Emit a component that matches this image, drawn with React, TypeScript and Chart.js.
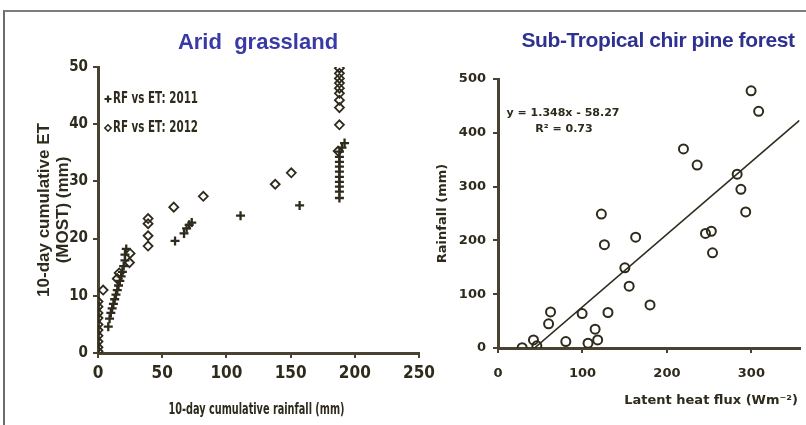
import React, { useEffect, useRef } from 'react';
import { Chart, registerables } from 'chart.js';

Chart.register(...registerables);

// ---------------- Arid grassland ----------------
const aridTitle = 'Arid  grassland';
const aridXLabel = '10-day cumulative rainfall (mm)';
const aridYLabel = ['10-day cumulative ET', '(MOST) (mm)'];
const label2011 = 'RF vs ET: 2011';
const label2012 = 'RF vs ET: 2012';

const rf2011 = [8, 9, 10, 11, 12, 13, 14, 15, 16, 17, 18, 19, 20, 21, 21, 22,
  60, 67, 69, 71, 73, 111, 157,
  188, 188, 188, 188, 188, 188, 188, 188, 188, 188, 190, 192];
const et2011 = [4.6, 6.0, 7.0, 7.8, 8.6, 9.4, 10.2, 11.0, 11.8, 12.6, 13.4, 14.2, 15.2, 16.2, 17.2, 18.2,
  19.6, 20.9, 21.8, 22.4, 22.8, 24.0, 25.8,
  27.1, 28.2, 29.1, 29.9, 30.8, 31.7, 32.6, 33.4, 34.3, 35.2, 35.9, 36.7];

const rf2012 = [0, 0, 0, 0, 0, 0, 0, 0, 0, 0,
  4, 15, 16.5, 24.5, 25, 39, 39, 39, 39, 59, 82, 138, 150.5,
  187, 188, 188, 188, 188, 188, 188, 188, 188, 188];
const et2012 = [0.3, 1.0, 2.0, 3.0, 4.0, 5.0, 6.1, 7.0, 8.1, 9.0,
  11.0, 13.0, 14.0, 15.8, 17.4, 18.7, 20.5, 22.6, 23.5, 25.5, 27.4, 29.5, 31.5,
  35.3, 39.9, 42.9, 44.2, 45.4, 46.3, 47.2, 48.0, 48.9, 49.8];

const aridXMin = 0, aridXMax = 250, aridXStep = 50;
const aridYMin = 0, aridYMax = 50, aridYStep = 10;

// ---------------- Sub-Tropical chir pine forest ----------------
const pineTitle = 'Sub-Tropical chir pine forest';
const pineXLabel = 'Latent heat flux (Wm\u207B\u00B2)';
const pineYLabel = 'Rainfall (mm)';

const latentHeat = [299.7, 308.6, 219.6, 235.8, 283.2, 287.6, 293.3, 245.7, 252.6, 254.0,
  122.4, 126.0, 163.0, 150.2, 155.3, 180.0, 130.2, 99.6, 62.2, 59.9,
  115.0, 80.3, 106.6, 118.0, 42.0, 28.6, 46.0];
const rainfall = [478, 440, 370, 340, 323, 295, 253, 213, 217, 177,
  249, 192, 206, 149, 115, 80, 66, 64, 67, 45,
  35, 12, 9, 15, 15, 0.5, 4];

const fitSlope = 1.348;
const fitIntercept = -58.27;
const fitR2 = 0.73;

const pineXMin = 0, pineXMax = 357, pineXStep = 100;
const pineYMin = 0, pineYMax = 500, pineYStep = 100;

// ---------------- styles ----------------
const INK = '#2e2a1c';
const AXIS = '#494231';
const NARROW = "'Liberation Sans Narrow', 'DejaVu Sans Condensed', 'Arial Narrow', sans-serif";
const SANS = "'Liberation Sans', Arial, sans-serif";
const DEJAVU = "'DejaVu Sans', sans-serif";

const pts = (xs: number[], ys: number[]) => xs.map((x, i) => ({ x, y: ys[i] }));

function drawCross(ctx: CanvasRenderingContext2D, x: number, y: number, r: number) {
  ctx.beginPath();
  ctx.moveTo(x - r, y); ctx.lineTo(x + r, y);
  ctx.moveTo(x, y - r); ctx.lineTo(x, y + r);
  ctx.stroke();
}
function drawDiamond(ctx: CanvasRenderingContext2D, x: number, y: number, r: number) {
  ctx.beginPath();
  ctx.moveTo(x - r, y); ctx.lineTo(x, y - r); ctx.lineTo(x + r, y); ctx.lineTo(x, y + r);
  ctx.closePath();
  ctx.stroke();
}
// draw text squeezed horizontally to a target width (condensed look)
function fitText(ctx: CanvasRenderingContext2D, text: string, x: number, y: number, width: number, align: 'left' | 'center') {
  const w = ctx.measureText(text).width;
  const k = Math.min(1, width / w);
  ctx.save();
  ctx.translate(x, y);
  ctx.scale(k, 1);
  ctx.textAlign = align;
  ctx.fillText(text, 0, 0);
  ctx.restore();
}

const aridText = {
  id: 'aridText',
  afterDraw(chart: any) {
    const ctx: CanvasRenderingContext2D = chart.ctx;
    ctx.save();
    ctx.fillStyle = '#3a3aa6';
    ctx.font = `bold 22px ${SANS}`;
    ctx.textAlign = 'center';
    ctx.textBaseline = 'middle';
    ctx.fillText(aridTitle, 258, 43);

    ctx.fillStyle = INK;
    ctx.strokeStyle = INK;
    ctx.font = `bold 16px ${NARROW}`;
    const xs = chart.scales.x;
    fitText(ctx, aridXLabel, (xs.left + xs.right) / 2 - 2, 410, 176, 'center');

    ctx.font = `bold 15px ${NARROW}`;
    chart.data.datasets.forEach((d: any, i: number) => {
      const y = 99 + i * 29;
      if (d.pointStyle === 'cross') { ctx.lineWidth = 2.2; drawCross(ctx, 108, y, 3.5); }
      else { ctx.lineWidth = 1.6; drawDiamond(ctx, 108, y, 3.2); }
      fitText(ctx, d.label, 113, y, 85, 'left');
    });
    ctx.restore();
  },
};

const pineText = {
  id: 'pineText',
  afterDraw(chart: any) {
    const ctx: CanvasRenderingContext2D = chart.ctx;
    ctx.save();
    ctx.fillStyle = '#2e3190';
    ctx.font = `bold 21px ${SANS}`;
    (ctx as any).letterSpacing = '-0.4px';
    ctx.textAlign = 'center';
    ctx.textBaseline = 'middle';
    ctx.fillText(pineTitle, 258, 41);
    (ctx as any).letterSpacing = '0px';

    ctx.fillStyle = INK;
    ctx.font = `bold 11px ${DEJAVU}`;
    const sign = fitIntercept < 0 ? '-' : '+';
    ctx.fillText(`y = ${fitSlope.toFixed(3)}x ${sign} ${Math.abs(fitIntercept).toFixed(2)}`, 163, 113);
    ctx.fillText(`R\u00B2 = ${fitR2.toFixed(2)}`, 164, 129);

    ctx.font = `bold 13px ${DEJAVU}`;
    ctx.textAlign = 'right';
    ctx.fillText(pineXLabel, 398, 401);
    ctx.restore();
  },
};

function AridChart() {
  const ref = useRef<HTMLCanvasElement>(null);
  useEffect(() => {
    const chart = new Chart(ref.current!, {
      type: 'scatter',
      data: {
        datasets: [
          {
            label: label2011,
            data: pts(rf2011, et2011),
            pointStyle: 'cross',
            pointRadius: 4.5,
            borderWidth: 2.3,
            borderColor: INK,
            backgroundColor: INK,
          },
          {
            label: label2012,
            data: pts(rf2012, et2012),
            pointStyle: 'rectRot',
            pointRadius: 4.5,
            borderWidth: 1.8,
            borderColor: INK,
            backgroundColor: 'rgba(0,0,0,0)',
          },
        ],
      },
      options: {
        responsive: false,
        animation: false,
        devicePixelRatio: 1,
        layout: { padding: { top: 67, right: 20, bottom: 0, left: 0 } },
        plugins: { legend: { display: false }, tooltip: { enabled: false } },
        scales: {
          x: {
            type: 'linear',
            min: aridXMin, max: aridXMax,
            ticks: { stepSize: aridXStep, color: INK, font: { family: NARROW, size: 17, weight: 'bold' }, padding: 5 },
            grid: { drawOnChartArea: false, tickLength: 5, color: AXIS, lineWidth: 2 },
            border: { color: AXIS, width: 3 },
            afterFit: (s: any) => { s.height = 72; },
          },
          y: {
            min: aridYMin, max: aridYMax,
            ticks: { stepSize: aridYStep, color: INK, font: { family: NARROW, size: 15, weight: 'bold' }, padding: 5 },
            grid: { drawOnChartArea: false, tickLength: 5, color: AXIS, lineWidth: 2 },
            border: { color: AXIS, width: 3 },
            title: { display: true, text: aridYLabel, color: INK, font: { family: SANS, size: 17, weight: 'bold', lineHeight: 1.1 }, padding: { top: 35, bottom: 0 } },
            afterFit: (s: any) => { s.width = 98; },
          },
        },
      },
      plugins: [aridText],
    } as any);
    return () => chart.destroy();
  }, []);
  return <canvas ref={ref} width={440} height={425} style={{ position: 'absolute', left: 0, top: 0, width: 440, height: 425 }} />;
}

function PineChart() {
  const ref = useRef<HTMLCanvasElement>(null);
  useEffect(() => {
    const x0 = -fitIntercept / fitSlope;
    const chart = new Chart(ref.current!, {
      type: 'scatter',
      data: {
        datasets: [
          {
            label: 'Rainfall vs LE',
            data: pts(latentHeat, rainfall),
            pointStyle: 'circle',
            pointRadius: 4.5,
            borderWidth: 2,
            borderColor: INK,
            backgroundColor: 'rgba(0,0,0,0)',
          },
          {
            label: 'Linear fit',
            type: 'line',
            data: [
              { x: x0, y: 0 },
              { x: pineXMax, y: fitSlope * pineXMax + fitIntercept },
            ],
            showLine: true,
            pointRadius: 0,
            borderWidth: 1.6,
            borderColor: INK,
            fill: false,
          },
        ],
      },
      options: {
        responsive: false,
        animation: false,
        devicePixelRatio: 1,
        layout: { padding: { top: 79, right: 0, bottom: 0, left: 0 } },
        plugins: { legend: { display: false }, tooltip: { enabled: false } },
        scales: {
          x: {
            type: 'linear',
            min: pineXMin, max: pineXMax,
            afterBuildTicks: (s: any) => { s.ticks = s.ticks.filter((t: any) => t.value % pineXStep === 0); },
            ticks: { stepSize: pineXStep, color: INK, font: { family: DEJAVU, size: 13, weight: 'bold' }, padding: 13 },
            grid: { drawOnChartArea: false, tickLength: 5, color: AXIS, lineWidth: 2 },
            border: { color: AXIS, width: 3 },
            afterFit: (s: any) => { s.height = 77; },
          },
          y: {
            min: pineYMin, max: pineYMax,
            ticks: { stepSize: pineYStep, color: INK, font: { family: DEJAVU, size: 13, weight: 'bold' }, padding: 7 },
            grid: { drawOnChartArea: false, tickLength: 5, color: AXIS, lineWidth: 2 },
            border: { color: AXIS, width: 3 },
            title: { display: true, text: pineYLabel, color: INK, font: { family: DEJAVU, size: 13, weight: 'bold' }, padding: { top: 35, bottom: 0 } },
            afterFit: (s: any) => { s.width = 98; },
          },
        },
      },
      plugins: [pineText],
    } as any);
    return () => chart.destroy();
  }, []);
  return <canvas ref={ref} width={406} height={425} style={{ position: 'absolute', left: 400, top: 0, width: 406, height: 425 }} />;
}

export default function App() {
  return (
    <div style={{ position: 'absolute', left: 0, top: 0, width: 806, height: 425, overflow: 'hidden', background: '#fff' }}>
      <div style={{ position: 'absolute', left: 3, top: 10, width: 900, height: 500, borderTop: '2px solid #7c7c7c', borderLeft: '2px solid #6c6c6c' }} />
      <PineChart />
      <AridChart />
    </div>
  );
}
